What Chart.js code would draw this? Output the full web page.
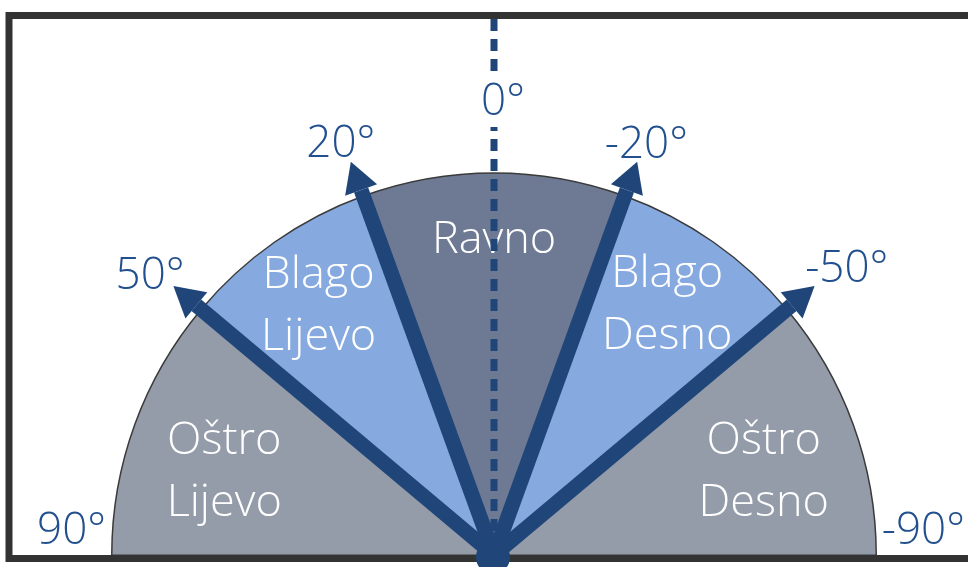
<!DOCTYPE html>
<html>
<head>
<meta charset="utf-8">
<script src="https://cdn.jsdelivr.net/npm/chart.js@4"></script>
<style>
  body { margin: 0; background: #fff; }
  canvas { display: block; }
</style>
</head>
<body>
<canvas id="myChart" width="968" height="567"></canvas>
<script>
// sectors, left to right across the half circle
const sectorNames = [['Oštro', 'Lijevo'], ['Blago', 'Lijevo'], ['Ravno'], ['Blago', 'Desno'], ['Oštro', 'Desno']];
const sectorSpan = [40, 30, 40, 30, 40];      // degrees of each sector
const sectorColors = ['#959ca9', '#86aadf', '#6e7a93', '#86aadf', '#959ca9'];
const arrowAngles = [50, 20, -20, -50];         // degrees, + is left
const tickAngles = [90, 50, 20, 0, -20, -50, -90];
const tickLabels = ['90°', '50°', '20°', '0°', '-20°', '-50°', '-90°'];

const blue = '#1f4579';
const textBlue = '#22508e';
const font = '"Open Sans", "Noto Sans", sans-serif';

function pt(cx, cy, r, deg) {
    const a = deg * Math.PI / 180;
    return { x: cx - r * Math.sin(a), y: cy - r * Math.cos(a) };
}

const overlay = {
    id: 'overlay',
    beforeDraw(chart) {
        const ctx = chart.ctx;
        ctx.save();
        ctx.fillStyle = '#fff';
        ctx.fillRect(0, 0, chart.width, chart.height);
        ctx.restore();
    },
    afterDraw(chart) {
        const ctx = chart.ctx;
        const arc = chart.getDatasetMeta(0).data[0];
        const cx = arc.x, cy = arc.y, R = arc.outerRadius;

        // frame
        ctx.save();
        ctx.strokeStyle = '#333';
        ctx.lineWidth = 7;
        ctx.strokeRect(9, 15.5, 1000, 543);
        ctx.restore();

        // sector names (radius factor and angle nudge per sector)
        const labelR = [0.74, 0.8, 0.83, 0.8, 0.74];
        const labelNudge = [2.5, 0, 0, -0.5, 2.5];
        let start = 90;
        ctx.save();
        ctx.fillStyle = '#fff';
        ctx.font = '300 45px ' + font;
        ctx.textAlign = 'center';
        ctx.textBaseline = 'middle';
        sectorNames.forEach((lines, i) => {
            let mid = start - sectorSpan[i] / 2;
            start -= sectorSpan[i];
            mid += mid >= 0 ? labelNudge[i] : -labelNudge[i];
            const p = pt(cx, cy, R * labelR[i], mid);
            const lh = 62;
            lines.forEach((t, j) => {
                ctx.fillText(t, p.x, p.y + 2 + (j - (lines.length - 1) / 2) * lh);
            });
        });
        ctx.restore();

        // dashed 0° line
        ctx.save();
        ctx.strokeStyle = blue;
        ctx.lineWidth = 7;
        ctx.setLineDash([12, 8]);
        ctx.beginPath();
        ctx.moveTo(cx, 19);
        ctx.lineTo(cx, cy);
        ctx.stroke();
        ctx.restore();

        // arrows
        ctx.save();
        ctx.strokeStyle = blue;
        ctx.fillStyle = blue;
        ctx.lineWidth = 15;
        arrowAngles.forEach(a => {
            const len = R * 1.095;
            const tip = pt(cx, cy, len, a);
            const base = pt(cx, cy, len - 30, a);
            const rad = a * Math.PI / 180;
            const nx = Math.cos(rad), ny = -Math.sin(rad);
            ctx.beginPath();
            ctx.moveTo(cx, cy);
            ctx.lineTo(base.x, base.y);
            ctx.stroke();
            ctx.beginPath();
            ctx.moveTo(tip.x, tip.y);
            ctx.lineTo(base.x + nx * 17, base.y + ny * 17);
            ctx.lineTo(base.x - nx * 17, base.y - ny * 17);
            ctx.closePath();
            ctx.fill();
        });
        // hub
        ctx.beginPath();
        ctx.arc(cx - 1, cy + 2, 17, 0, Math.PI * 2);
        ctx.fill();
        ctx.restore();

        // tick labels
        const tickR = { 50: 1.166, 20: 1.16, '-20': 1.155, '-50': 1.196 };
        ctx.save();
        ctx.font = '300 44px ' + font;
        ctx.fillStyle = textBlue;
        ctx.textAlign = 'center';
        ctx.textBaseline = 'middle';
        const minusHalf = ctx.measureText('-').width / 2;
        tickAngles.forEach((a, i) => {
            let x, y;
            if (Math.abs(a) === 90) {
                x = cx + (a > 0 ? -1 : 1) * R * 1.105;
                if (a < 0) x += minusHalf;
                y = cy - 24;
            } else if (a === 0) {
                x = cx + 9;
                const w = ctx.measureText(tickLabels[i]).width;
                ctx.save();
                ctx.fillStyle = '#fff';
                ctx.fillRect(x - w / 2 - 2, 73, w + 4, 54);
                ctx.restore();
                y = 102;
            } else {
                const p = pt(cx, cy, R * tickR[a], a * 1.01);
                x = p.x; y = p.y + 5;
            }
            ctx.fillText(tickLabels[i], x, y);
        });
        ctx.restore();
    }
};

new Chart(document.getElementById('myChart').getContext('2d'), {
    type: 'pie',
    data: {
        labels: sectorNames.map(n => n.join(' ')),
        datasets: [{
            data: sectorSpan,
            backgroundColor: sectorColors,
            borderColor: '#3a3a3a',
            borderWidth: 1.5
        }]
    },
    options: {
        responsive: false,
        animation: false,
        devicePixelRatio: 1,
        rotation: -90,
        circumference: 180,
        layout: { padding: { left: 111, right: 91, top: 172, bottom: 11 } },
        plugins: {
            legend: { display: false },
            tooltip: { enabled: false }
        }
    },
    plugins: [overlay]
});
</script>
</body>
</html>
